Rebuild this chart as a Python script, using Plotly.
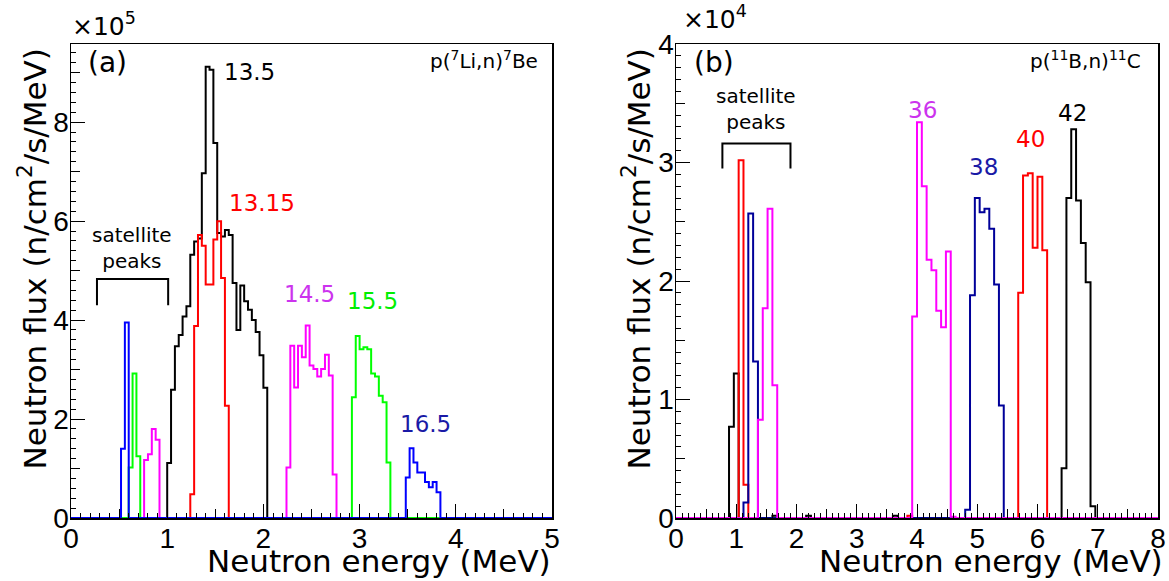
import plotly.graph_objects as go

W, H = 1169, 581

# ---------------- panel (a): p(7Li,n)7Be  (bin width 0.04 MeV, values in units of 1e5) ----------------
A_XMAX = 5.0
A_BIN = 0.04
A_YMAX = 9.58
a135_start = 1.00
a135 = [1.11, 2.59, 3.47, 3.70, 4.07, 4.28, 5.32, 5.59, 5.65, 6.97, 9.12, 9.06, 7.58,
        5.76, 5.69, 5.82, 5.72, 4.75, 3.80, 4.70, 4.38, 4.21, 4.00, 3.76, 3.29, 2.63]
a1315_start = 1.24
a1315 = [0.48, 3.88, 5.72, 5.50, 4.72, 4.72, 5.63, 6.00, 4.85, 2.27]
a145_sat_start = 0.76
a145_sat = [1.17, 1.29, 1.80, 1.58]
a145_start = 2.24
a145 = [1.02, 3.48, 2.64, 3.48, 3.25, 3.89, 3.08, 3.01, 2.86, 3.01, 3.30, 2.88, 0.88]
a155_sat_start = 0.60
a155_sat = [1.02, 2.92, 1.25]
a155_start = 2.92
a155 = [2.44, 3.68, 3.41, 3.45, 3.41, 2.92, 2.86, 2.47, 2.34, 1.12]
a165_sat_start = 0.52
a165_sat = [1.40, 3.95]
a165_start = 3.48
a165 = [0.82, 1.41, 1.12, 0.92, 0.92, 0.73, 0.62, 0.73, 0.52]

# ---------------- panel (b): p(11B,n)11C  (bin width 0.08 MeV, values in units of 1e4) ----------------
B_XMAX = 8.0
B_BIN = 0.08
B_YMAX = 4.0
b42_sat_start = 0.88
b42_sat = [0.77, 1.22]
b42_small = [(1.60, 0.02), (2.16, 0.02), (3.60, 0.02)]
b42_start = 6.40
b42 = [0.42, 2.70, 3.28, 2.68, 2.32, 1.99, 0.10]
b40_sat_start = 1.04
b40_sat = [3.02, 0.28]
b40_small = [(3.84, 0.02)]
b40_start = 5.68
b40 = [1.90, 2.89, 2.91, 2.28, 2.88, 2.26]
b38_sat_start = 1.12
b38_sat = [0.13, 2.57, 1.32]
b38_start = 4.80
b38 = [0.07, 1.88, 2.70, 2.58, 2.61, 2.44, 1.97, 0.95]
b36_sat_start = 1.36
b36_sat = [0.83, 1.77, 2.61, 1.12]
b36_start = 3.92
b36 = [1.70, 3.34, 2.80, 2.18, 2.09, 1.75, 1.61, 2.25, 0.01]


def hist_steps(xmax, width, segments):
    n = int(round(xmax / width))
    vals = [0.0] * n
    for start, seg in segments:
        i0 = int(round(start / width))
        for k, v in enumerate(seg):
            vals[i0 + k] = v
    xs = [round(i * width, 6) for i in range(n)] + [xmax]
    ys = vals + [vals[-1]]
    return xs, ys


FONT = "DejaVu Sans"
TICKFONT = dict(family="Liberation Sans", size=28, color="black")

fig = go.Figure()

a_series = [
    ("13.5 MeV", "#000000", [(a135_start, a135)]),
    ("13.15 MeV", "#ff0000", [(a1315_start, a1315)]),
    ("14.5 MeV", "#ff00ff", [(a145_sat_start, a145_sat), (a145_start, a145)]),
    ("15.5 MeV", "#00ff00", [(a155_sat_start, a155_sat), (a155_start, a155)]),
    ("16.5 MeV", "#0000ff", [(a165_sat_start, a165_sat), (a165_start, a165)]),
]
for name, col, segs in a_series:
    xs, ys = hist_steps(A_XMAX, A_BIN, segs)
    fig.add_trace(go.Scatter(x=xs, y=ys, mode="lines", line=dict(color=col, width=2, shape="hv"),
                             name=name, xaxis="x", yaxis="y", showlegend=False, hoverinfo="skip"))

b_series = [
    ("42 MeV", "#000000", [(b42_sat_start, b42_sat), (b42_start, b42)] + [(s, [v]) for s, v in b42_small]),
    ("40 MeV", "#ff0000", [(b40_sat_start, b40_sat), (b40_start, b40)] + [(s, [v]) for s, v in b40_small]),
    ("38 MeV", "#000099", [(b38_sat_start, b38_sat), (b38_start, b38)]),
    ("36 MeV", "#ff00ff", [(b36_sat_start, b36_sat), (b36_start, b36)]),
]
for name, col, segs in b_series:
    xs, ys = hist_steps(B_XMAX, B_BIN, segs)
    fig.add_trace(go.Scatter(x=xs, y=ys, mode="lines", line=dict(color=col, width=2, shape="hv"),
                             name=name, xaxis="x2", yaxis="y2", showlegend=False, hoverinfo="skip"))

# invisible traces to make the medium-tick overlay axes render
for xa, ya in [("x3", "y"), ("x", "y3"), ("x4", "y2"), ("x2", "y4")]:
    fig.add_trace(go.Scatter(x=[0], y=[0], mode="markers", marker=dict(opacity=0),
                             xaxis=xa, yaxis=ya, showlegend=False, hoverinfo="skip"))

XA = [71 / W, 552 / W]
XB = [676 / W, 1158 / W]
YD = [1 - 518 / H, 1 - 44 / H]


def main_axis(domain, rng, dtick, minor_dtick, anchor, ticklen=14):
    return dict(domain=domain, range=rng, anchor=anchor, tickmode="linear", tick0=0, dtick=dtick,
                ticks="inside", ticklen=ticklen, tickwidth=1, tickcolor="black", ticklabelstandoff=-5,
                minor=dict(dtick=minor_dtick, tick0=0, ticks="inside", ticklen=5, tickwidth=1, tickcolor="black"),
                showline=True, mirror=True, linecolor="black", linewidth=1.5, automargin=False,
                showgrid=False, zeroline=False, tickfont=TICKFONT, fixedrange=True)


def med_axis(rng, dtick, overlaying, anchor):
    return dict(range=rng, overlaying=overlaying, anchor=anchor, tickmode="linear", tick0=0, dtick=dtick,
                ticks="inside", ticklen=9, tickwidth=1, tickcolor="black", showticklabels=False,
                showline=False, showgrid=False, zeroline=False, fixedrange=True, automargin=False)


fig.update_layout(
    width=W, height=H, autosize=False, margin=dict(l=0, r=0, t=0, b=0, pad=0, autoexpand=False),
    paper_bgcolor="white", plot_bgcolor="rgba(0,0,0,0)",
    font=dict(family=FONT, color="black"),
    xaxis=main_axis(XA, [0, A_XMAX], 1, 0.1, "y"),
    yaxis=main_axis(YD, [0, A_YMAX], 2, 0.2, "x"),
    xaxis2=main_axis(XB, [0, B_XMAX], 1, 0.1, "y2"),
    yaxis2=main_axis(YD, [0, B_YMAX], 1, 0.1, "x2"),
    xaxis3=med_axis([0, A_XMAX], 0.5, "x", "y"),
    yaxis3=med_axis([0, A_YMAX], 1, "y", "x"),
    xaxis4=med_axis([0, B_XMAX], 0.5, "x2", "y2"),
    yaxis4=med_axis([0, B_YMAX], 0.5, "y2", "x2"),
)


def px(x):
    return x / W


def py(y):
    return 1 - y / H


ann = []
TS = 31
# axis titles
ann.append(dict(text="Neutron energy (MeV)", x=px(553), y=py(561), xanchor="right", yanchor="middle",
                font=dict(size=TS)))
ann.append(dict(text="Neutron energy (MeV)", x=px(1165), y=py(561), xanchor="right", yanchor="middle",
                font=dict(size=TS)))
ann.append(dict(text="Neutron flux (n/cm<sup>2</sup>/s/MeV)", x=px(32), y=py(47), xanchor="center",
                yanchor="top", textangle=-90, font=dict(size=TS)))
ann.append(dict(text="Neutron flux (n/cm<sup>2</sup>/s/MeV)", x=px(636), y=py(47), xanchor="center",
                yanchor="top", textangle=-90, font=dict(size=TS)))
# exponent labels
ann.append(dict(text="×10<sup>5</sup>", x=px(70), y=py(43), xanchor="left", yanchor="bottom",
                font=dict(size=25)))
ann.append(dict(text="×10<sup>4</sup>", x=px(681), y=py(36), xanchor="left", yanchor="bottom",
                font=dict(size=25)))
# panel letters and reaction labels
ann.append(dict(text="(a)", x=px(86), y=py(62), xanchor="left", yanchor="middle", font=dict(size=28)))
ann.append(dict(text="(b)", x=px(692), y=py(62), xanchor="left", yanchor="middle", font=dict(size=28)))
ann.append(dict(text="p(<sup>7</sup>Li,n)<sup>7</sup>Be", x=px(540), y=py(60), xanchor="right",
                yanchor="middle", font=dict(size=20)))
ann.append(dict(text="p(<sup>11</sup>B,n)<sup>11</sup>C", x=px(1143), y=py(60), xanchor="right",
                yanchor="middle", font=dict(size=20)))

# energy labels in data coordinates
LS = 23
a_labels = [("13.5", 1.86, 9.02, "#000000"), ("13.15", 1.99, 6.36, "#ff0000"),
            ("14.5", 2.48, 4.52, "#cc33ee"), ("15.5", 3.13, 4.38, "#00ee00"),
            ("16.5", 3.68, 1.90, "#1a1aa6")]
for t, x, y, c in a_labels:
    ann.append(dict(text=t, x=x, y=y, xref="x", yref="y", xanchor="center", yanchor="middle",
                    font=dict(size=LS, color=c)))
b_labels = [("36", 4.09, 3.44, "#cc33ee"), ("38", 5.10, 2.96, "#1a1aa6"),
            ("40", 5.89, 3.20, "#ff0000"), ("42", 6.58, 3.42, "#000000")]
for t, x, y, c in b_labels:
    ann.append(dict(text=t, x=x, y=y, xref="x2", yref="y2", xanchor="center", yanchor="middle",
                    font=dict(size=LS, color=c)))
ann.append(dict(text="satellite<br>peaks", x=0.635, y=5.45, xref="x", yref="y", xanchor="center",
                yanchor="middle", font=dict(size=20)))
ann.append(dict(text="satellite<br>peaks", x=1.335, y=3.45, xref="x2", yref="y2", xanchor="center",
                yanchor="middle", font=dict(size=20)))
for a in ann:
    a.setdefault("showarrow", False)
    a.setdefault("xref", "paper")
    a.setdefault("yref", "paper")
fig.update_layout(annotations=ann)

# "satellite peaks" brackets
shapes = []
for xr, yr, x0, x1, ytop, ybot in [("x", "y", 0.27, 1.01, 4.83, 4.30), ("x2", "y2", 0.77, 1.90, 3.16, 2.95)]:
    shapes.append(dict(type="path", xref=xr, yref=yr,
                       path=f"M {x0} {ybot} L {x0} {ytop} L {x1} {ytop} L {x1} {ybot}",
                       line=dict(color="black", width=2)))
fig.update_layout(shapes=shapes)

fig.write_html("out.html", config={"displayModeBar": False, "staticPlot": True},
               post_script="document.body.style.margin='0';document.body.style.overflow='hidden';")
